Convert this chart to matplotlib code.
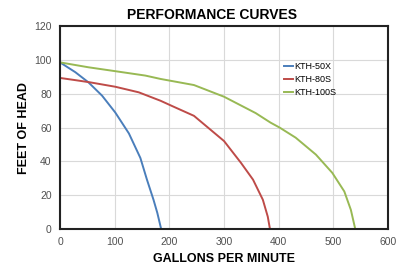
import matplotlib
matplotlib.use('Agg')
import matplotlib.pyplot as plt

plt.rcParams['font.family'] = ['Liberation Sans', 'DejaVu Sans']

# data
gpm_50x = [0, 28, 52, 77, 101, 126, 147, 159, 171, 178, 185]
head_50x = [98.5, 92.7, 86.7, 78.8, 68.9, 56.5, 42, 29.2, 17.3, 9.5, 0]

gpm_80s = [0, 28, 55, 101, 144, 184, 205, 245, 276, 300, 331, 353, 371, 380, 384]
head_80s = [89.3, 88, 86.7, 84.1, 80.8, 75.8, 72.7, 66.9, 58.5, 52, 39.1, 29.2, 17.3, 7.3, 0]

gpm_100s = [0, 52, 101, 156, 184, 245, 300, 358, 385, 402, 431, 468, 498, 520, 532, 540]
head_100s = [98.5, 95.6, 93.3, 90.7, 88.7, 85.1, 78.2, 68.5, 62.9, 59.9, 54, 44, 33.2, 22.2, 11.3, 0]

x_ticks = [0, 100, 200, 300, 400, 500, 600]
y_ticks = [0, 20, 40, 60, 80, 100, 120]

fig = plt.figure(figsize=(4.06, 2.67), dpi=100)
ax = fig.add_axes([0.1478, 0.1423, 0.808, 0.7603])

ax.plot(gpm_50x, head_50x, color='#4a7ebb', linewidth=1.4, label='KTH-50X')
ax.plot(gpm_80s, head_80s, color='#be4b48', linewidth=1.4, label='KTH-80S')
ax.plot(gpm_100s, head_100s, color='#98b954', linewidth=1.4, label='KTH-100S')

ax.set_xlim(0, 600)
ax.set_ylim(0, 120)
ax.set_xticks(x_ticks)
ax.set_yticks(y_ticks)
ax.grid(True, color='#d9d9d9', linewidth=0.8)
ax.set_axisbelow(True)
ax.tick_params(length=0, labelsize=7.5, labelcolor='#505050', pad=6)
for s in ax.spines.values():
    s.set_linewidth(1.5)
    s.set_color('#222222')

ax.set_title('PERFORMANCE CURVES', fontsize=10, fontweight='bold', pad=5, x=0.462)
ax.set_xlabel('GALLONS PER MINUTE', fontsize=9, fontweight='bold', labelpad=4)
ax.set_ylabel('FEET OF HEAD', fontsize=9, fontweight='bold', labelpad=3)

ax.legend(loc='upper left', bbox_to_anchor=(0.67, 0.845), frameon=False,
          fontsize=6.5, handlelength=1.0, handletextpad=0.15,
          labelspacing=0.45, borderpad=0)

fig.savefig('out.png', dpi=100)
